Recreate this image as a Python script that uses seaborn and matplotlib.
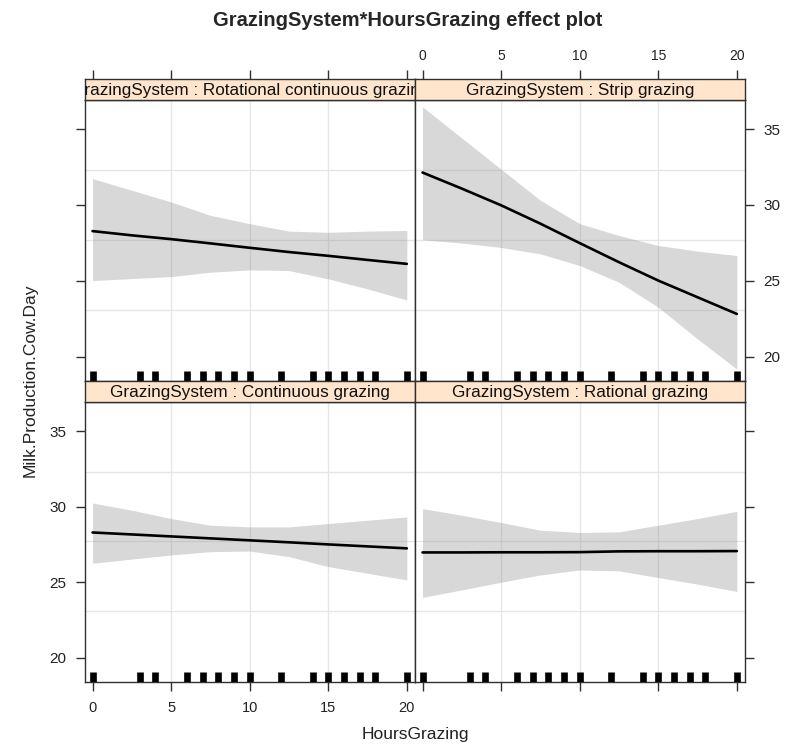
import matplotlib
matplotlib.use("Agg")
import matplotlib.pyplot as plt
import seaborn as sns
import pandas as pd

sns.set_theme(style="white")
plt.rcParams["font.family"] = ["Liberation Sans", "DejaVu Sans"]

# effect estimates, evaluated on a grid of HoursGrazing
hours = [0, 2.5, 5, 7.5, 10, 12.5, 15, 17.5, 20]
systems = ["Rotational continuous grazing", "Strip grazing",
           "Continuous grazing", "Rational grazing"]

rot_fit = [28.28, 28.0, 27.75, 27.47, 27.18, 26.9, 26.65, 26.38, 26.12]
rot_upper = [31.74, 30.97, 30.2, 29.32, 28.77, 28.28, 28.2, 28.28, 28.32]
rot_lower = [25.02, 25.15, 25.28, 25.57, 25.72, 25.68, 25.13, 24.47, 23.74]

strip_fit = [32.14, 31.08, 29.98, 28.77, 27.49, 26.23, 25.02, 23.92, 22.82]
strip_upper = [36.47, 34.41, 32.36, 30.31, 28.77, 27.99, 27.33, 26.96, 26.67]
strip_lower = [27.71, 27.49, 27.2, 26.78, 26.01, 24.91, 23.26, 21.17, 19.18]

cont_fit = [28.29, 28.16, 28.03, 27.9, 27.77, 27.64, 27.5, 27.37, 27.24]
cont_upper = [30.24, 29.76, 29.21, 28.77, 28.66, 28.66, 28.88, 29.1, 29.32]
cont_lower = [26.25, 26.53, 26.8, 27.02, 27.06, 26.69, 26.03, 25.59, 25.15]

rat_fit = [26.97, 26.97, 26.98, 26.98, 26.99, 27.04, 27.05, 27.05, 27.06]
rat_upper = [29.87, 29.43, 28.95, 28.44, 28.29, 28.33, 28.77, 29.21, 29.69]
rat_lower = [24.0, 24.49, 25.0, 25.48, 25.81, 25.75, 25.31, 24.87, 24.39]

# observed HoursGrazing values (rug)
rug_hours = [0, 3, 4, 6, 7, 8, 9, 10, 12, 14, 15, 16, 17, 18, 20]

x_ticks = [0, 5, 10, 15, 20]
y_ticks = [20, 25, 30, 35]
x_grid = [5, 10, 15]
y_grid = [23.1, 27.7, 32.3]

fits = [rot_fit, strip_fit, cont_fit, rat_fit]
uppers = [rot_upper, strip_upper, cont_upper, rat_upper]
lowers = [rot_lower, strip_lower, cont_lower, rat_lower]

frames = []
for name, f, u, l in zip(systems, fits, uppers, lowers):
    frames.append(pd.DataFrame({"GrazingSystem": name, "HoursGrazing": hours,
                                "fit": f, "upper": u, "lower": l}))
df = pd.concat(frames, ignore_index=True)

W, H = 786, 744
fig = plt.figure(figsize=(W / 100, H / 100), dpi=100)

# panel boxes in pixels
cols = [(85, 415), (415, 745)]
rows = [(100, 381), (402, 682)]
strip_h = 21
frame_col = "#303030"


def px_axes(x0, y0, x1, y1):
    return fig.add_axes([x0 / W, 1 - y1 / H, (x1 - x0) / W, (y1 - y0) / H])


for i, name in enumerate(systems):
    r, c = divmod(i, 2)
    x0, x1 = cols[c]
    y0, y1 = rows[r]
    ax = px_axes(x0, y0, x1, y1)
    sub = df[df["GrazingSystem"] == name]

    for g in x_grid:
        ax.axvline(g, color="#e6e6e6", lw=1, zorder=0)
    for g in y_grid:
        ax.axhline(g, color="#e6e6e6", lw=1, zorder=0)

    ax.fill_between(sub["HoursGrazing"], sub["lower"], sub["upper"],
                    color="grey", alpha=0.3, lw=0, zorder=1)
    sns.lineplot(data=sub, x="HoursGrazing", y="fit", color="black",
                 lw=1.9, ax=ax, zorder=3)
    sns.rugplot(x=rug_hours, height=0.036, color="black", linewidth=4.8,
                expand_margins=False, ax=ax, zorder=4)

    ax.set_xlim(-0.48, 20.52)
    ax.set_ylim(18.4, 36.92)
    ax.set_xticks(x_ticks)
    ax.set_yticks(y_ticks)
    ax.set_xlabel("")
    ax.set_ylabel("")
    for sp in ax.spines.values():
        sp.set_color(frame_col)
        sp.set_linewidth(1)
    ax.tick_params(direction="out", length=6.5, width=1, color=frame_col,
                   labelcolor="#222222")
    ax.tick_params(axis="y", labelsize=11, pad=6.7)
    ax.tick_params(axis="x", labelsize=10.5, pad=7)
    ax.tick_params(top=False, labeltop=False,
                   bottom=(r == 1), labelbottom=(r == 1 and c == 0),
                   left=(c == 0), labelleft=(c == 0 and r == 1),
                   right=(c == 1), labelright=(c == 1 and r == 0))

    # strip with the panel title
    st = px_axes(x0, y0 - strip_h, x1, y0)
    st.set_facecolor("#ffe5cc")
    st.set_xlim(-0.48, 20.52)
    st.set_ylim(0, 1)
    for sp in st.spines.values():
        sp.set_color(frame_col)
        sp.set_linewidth(1)
    st.set_yticks([])
    if r == 0:
        st.set_xticks(x_ticks)
        st.xaxis.tick_top()
        st.tick_params(axis="x", direction="out", length=6.5, width=1,
                       color=frame_col, pad=5, labelsize=10,
                       labelcolor="#222222", labeltop=(c == 1), bottom=False)
    else:
        st.set_xticks([])
    st.text(0.5, 0.45, "GrazingSystem : " + name, transform=st.transAxes,
            ha="center", va="center", fontsize=12.3, color="#111111",
            clip_on=True)

fig.text(408 / W, 1 - 20 / H, "GrazingSystem*HoursGrazing effect plot",
         ha="center", va="center", fontsize=14.5, fontweight="bold")
fig.text(415 / W, 1 - 735 / H, "HoursGrazing", ha="center", va="center",
         fontsize=12.5, color="#222222")
fig.text(30 / W, 1 - 380 / H, "Milk.Production.Cow.Day", ha="center",
         va="center", rotation=90, fontsize=12.5, color="#222222")

fig.savefig("out.png", dpi=100, facecolor="white")
